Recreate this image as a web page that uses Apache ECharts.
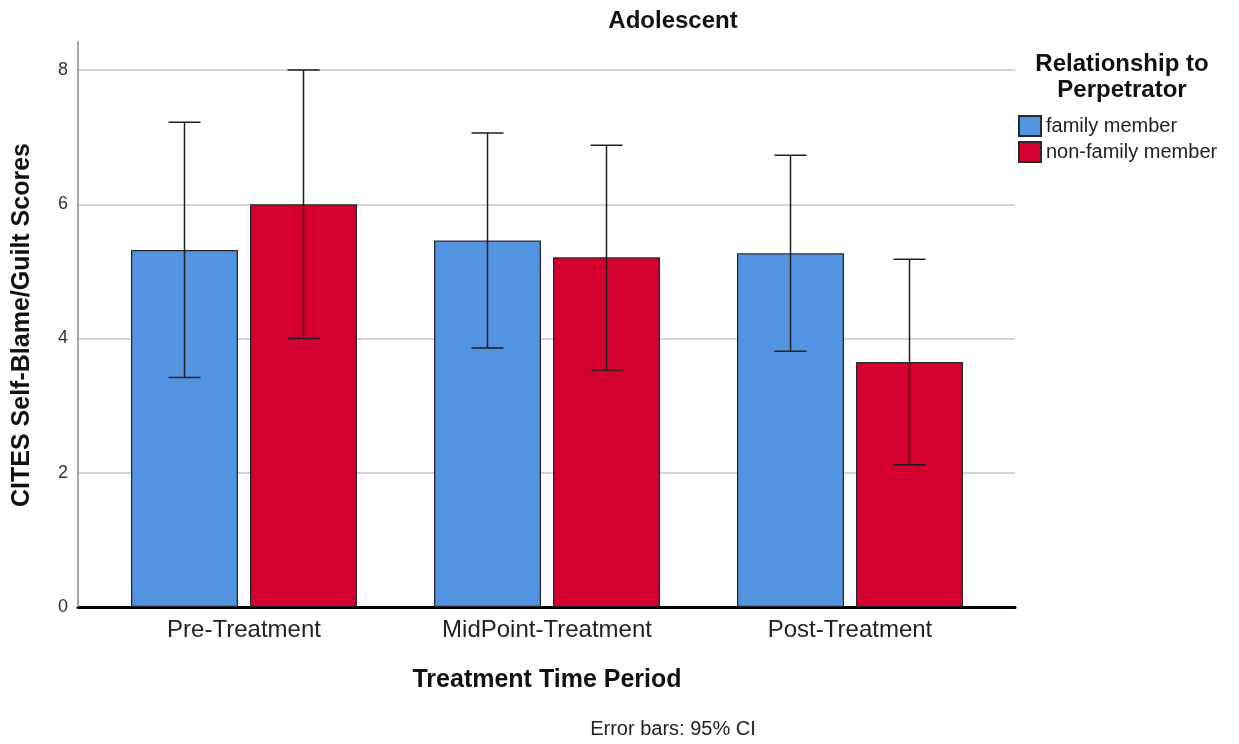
<!DOCTYPE html>
<html>
<head>
<meta charset="utf-8">
<script src="https://cdn.jsdelivr.net/npm/echarts@6/dist/echarts.min.js"></script>
<style>html,body{margin:0;padding:0;background:#fff;}#chart{width:1239px;height:744px;}</style>
</head>
<body>
<div id="chart"></div>
<script>
const categories = ['Pre-Treatment', 'MidPoint-Treatment', 'Post-Treatment'];
const seriesNames = ['family member', 'non-family member'];
const familyMean = [5.32, 5.46, 5.27];
const familyLow = [3.42, 3.86, 3.81];
const familyHigh = [7.22, 7.06, 6.73];
const nonFamilyMean = [6.00, 5.21, 3.65];
const nonFamilyLow = [4.00, 3.53, 2.12];
const nonFamilyHigh = [8.00, 6.88, 5.18];
const yTicks = [0, 2, 4, 6, 8];

const FONT = '"Liberation Sans", Arial, Helvetica, sans-serif';
const BAR_W = 107, BAR_GAP_PX = 12;

const errData = [];
categories.forEach((c, i) => {
  errData.push([i, familyLow[i], familyHigh[i], 0]);
  errData.push([i, nonFamilyLow[i], nonFamilyHigh[i], 1]);
});

const chart = echarts.init(document.getElementById('chart'), null, {renderer: 'canvas'});
const option = {
  backgroundColor: '#fff',
  animation: false,
  textStyle: {fontFamily: FONT},
  grid: [
    {left: 78, right: 224, top: 70, bottom: 137},
    {left: 92.5, right: 237.5, top: 70, bottom: 137}
  ],
  xAxis: [
    {gridIndex: 0, type: 'category', data: categories,
     axisLine: {lineStyle: {color: '#000', width: 3}}, axisTick: {show: false}, axisLabel: {show: false}},
    {gridIndex: 1, type: 'category', data: categories,
     axisLine: {show: false}, axisTick: {show: false},
     axisLabel: {fontSize: 24, color: '#222', fontFamily: FONT, margin: 11},
     name: 'Treatment Time Period', nameLocation: 'middle', nameGap: 61,
     nameTextStyle: {fontSize: 25, fontWeight: 'bold', color: '#111', fontFamily: FONT}}
  ],
  yAxis: [
    {gridIndex: 0, type: 'value', min: yTicks[0], max: yTicks[yTicks.length - 1], interval: 2,
     axisLine: {show: false}, axisTick: {show: false},
     axisLabel: {fontSize: 18, color: '#333', margin: 10, fontFamily: FONT},
     splitLine: {show: true, lineStyle: {color: '#c4c4c4', width: 1.5}}},
    {gridIndex: 1, type: 'value', min: yTicks[0], max: yTicks[yTicks.length - 1], interval: 2, show: false}
  ],
  legend: {
    orient: 'vertical', left: 1018, top: 115, padding: 0, itemWidth: 22, itemHeight: 20, itemGap: 4,
    icon: 'rect',
    textStyle: {fontSize: 20, color: '#222', fontFamily: FONT},
    data: seriesNames
  },
  graphic: [
    {type: 'line', shape: {x1: 78, y1: 41, x2: 78, y2: 607}, style: {stroke: '#8a8a8a', lineWidth: 1.5}, z: 5},
    {type: 'text', x: 673, y: 21, style: {text: 'Adolescent', font: 'bold 24px ' + FONT, fill: '#111', textAlign: 'center', textVerticalAlign: 'middle'}},
    {type: 'text', x: 1122, y: 77, style: {text: 'Relationship to\nPerpetrator', font: 'bold 24px ' + FONT, fill: '#111', textAlign: 'center', textVerticalAlign: 'middle', lineHeight: 26}},
    {type: 'text', x: 22, y: 325, rotation: Math.PI / 2, style: {text: 'CITES Self-Blame/Guilt Scores', font: 'bold 25px ' + FONT, fill: '#111', textAlign: 'center', textVerticalAlign: 'middle'}},
    {type: 'text', x: 673, y: 729, style: {text: 'Error bars: 95% CI', font: '20px ' + FONT, fill: '#222', textAlign: 'center', textVerticalAlign: 'middle'}}
  ],
  series: [
    {name: seriesNames[0], type: 'bar', xAxisIndex: 1, yAxisIndex: 1, data: familyMean,
     barWidth: BAR_W, barGap: (BAR_GAP_PX / BAR_W * 100) + '%',
     itemStyle: {color: '#5394e2', borderColor: '#2a2a2a', borderWidth: 1.3}},
    {name: seriesNames[1], type: 'bar', xAxisIndex: 1, yAxisIndex: 1, data: nonFamilyMean,
     barWidth: BAR_W, barGap: (BAR_GAP_PX / BAR_W * 100) + '%',
     itemStyle: {color: '#d4002f', borderColor: '#2a2a2a', borderWidth: 1.3}},
    {type: 'custom', xAxisIndex: 1, yAxisIndex: 1, z: 10, data: errData,
     renderItem: function (params, api) {
       const cat = api.value(0), lo = api.value(1), hi = api.value(2), s = api.value(3);
       const off = (s === 0 ? -1 : 1) * (BAR_W + BAR_GAP_PX) / 2;
       const pLo = api.coord([cat, lo]);
       const pHi = api.coord([cat, hi]);
       const x = pLo[0] + off;
       const cap = 16;
       const st = {stroke: '#1e1e1e', lineWidth: 1.5};
       return {type: 'group', children: [
         {type: 'line', shape: {x1: x, y1: pLo[1], x2: x, y2: pHi[1]}, style: st},
         {type: 'line', shape: {x1: x - cap, y1: pLo[1], x2: x + cap, y2: pLo[1]}, style: st},
         {type: 'line', shape: {x1: x - cap, y1: pHi[1], x2: x + cap, y2: pHi[1]}, style: st}
       ]};
     }}
  ]
};
chart.setOption(option);
</script>
</body>
</html>
